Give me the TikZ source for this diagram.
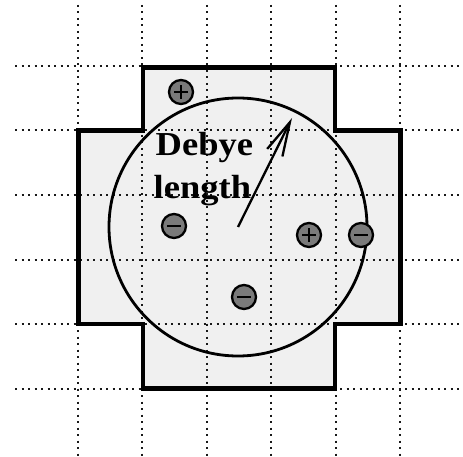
\documentclass[tikz,border=0pt]{standalone}
\usepackage{fontspec}
\setmainfont{Liberation Serif}
\usetikzlibrary{arrows.meta}
\begin{document}
\begin{tikzpicture}[x=1pt,y=-1pt,
  gridline/.style={line width=2pt, dash pattern=on 2pt off 4.5pt, black!90},
  cellwall/.style={line width=4.5pt, line join=miter},
  ion/.style={circle, draw, line width=2.3pt, fill=black!52, minimum size=24pt, inner sep=0pt},
  sign/.style={line width=1.5pt},
  plusion/.style={ion, path picture={
    \draw[sign] ([xshift=-7pt]path picture bounding box.center) -- ([xshift=7pt]path picture bounding box.center);
    \draw[sign] ([yshift=-7pt]path picture bounding box.center) -- ([yshift=7pt]path picture bounding box.center);}},
  minusion/.style={ion, path picture={
    \draw[sign] ([xshift=-7pt]path picture bounding box.center) -- ([xshift=7pt]path picture bounding box.center);}},
  labeltext/.style={anchor=base west, inner sep=0pt, xscale=1.09, font=\bfseries\fontsize{33.5}{40}\selectfont}
]
\useasboundingbox (0,0) rectangle (463,457);

% cross-shaped cell region
\fill[black!6] (143,67.5) -- (335,67.5) -- (335,130.5) -- (400.5,130.5) -- (400.5,324)
  -- (335,324) -- (335,388.5) -- (143,388.5) -- (143,324) -- (78.5,324)
  -- (78.5,130.5) -- (143,130.5) -- cycle;

% dotted grid
\foreach \x in {77.5,142,206.5,271,335.5,400}
  \draw[gridline] (\x,5) -- (\x,457);
\foreach \y in {66,130.5,195,259.5,324,388.5}
  \draw[gridline] (15,\y) -- (463,\y);

% outline of the cross
\draw[cellwall] (143,67.5) -- (335,67.5) -- (335,130.5) -- (400.5,130.5) -- (400.5,324)
  -- (335,324) -- (335,388.5) -- (143,388.5) -- (143,324) -- (78.5,324)
  -- (78.5,130.5) -- (143,130.5) -- cycle;

% Debye sphere
\node[circle, draw, line width=2.8pt, minimum size=258pt, inner sep=0pt] (sphere) at (238,227) {};

% ions
\node[plusion]  (p1) at (181,92)  {};
\node[minusion] (m1) at (174,226) {};
\node[plusion]  (p2) at (309,235) {};
\node[minusion] (m2) at (361,235) {};
\node[minusion] (m3) at (244,297) {};

% label
\node[labeltext] (w1) at (155.5,156) {Debye};
\node[labeltext] (w2) at (153.5,199) {length};

% radius arrow
\coordinate (tip) at (292,118);
\draw[line width=2.3pt, -{Straight Barb[length=34pt,width=17pt]}] (sphere.center) -- (tip);
\end{tikzpicture}
\end{document}
